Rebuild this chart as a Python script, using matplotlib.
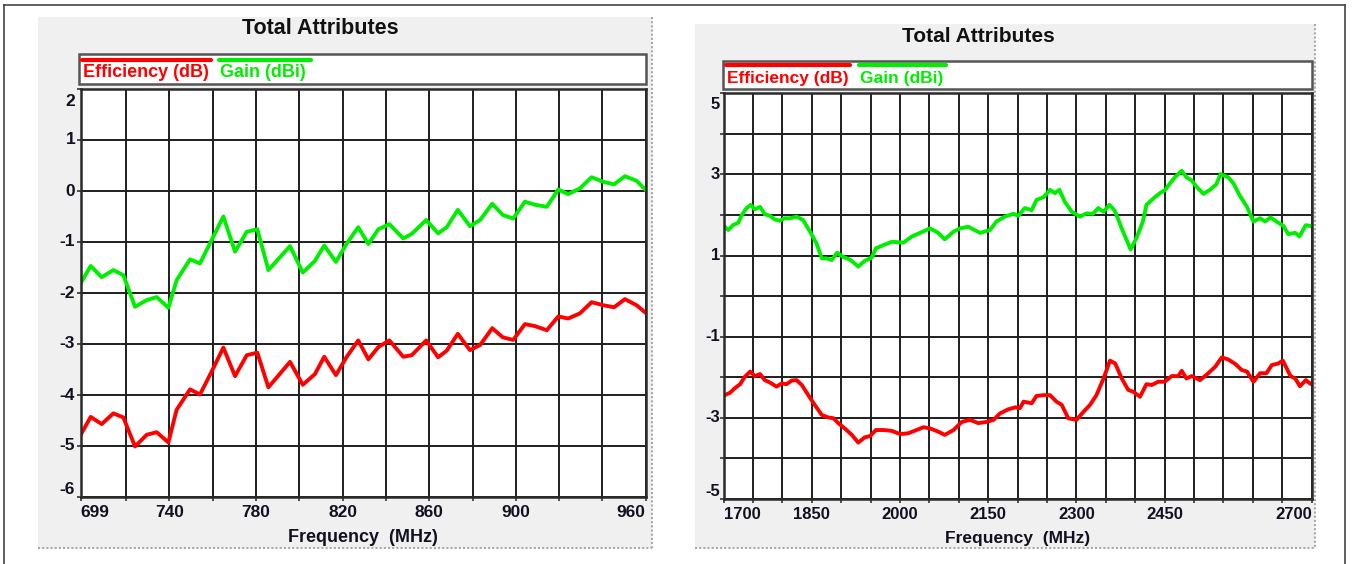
import matplotlib
matplotlib.use('Agg')
import matplotlib.pyplot as plt
import matplotlib.transforms as mtransforms
from matplotlib.patches import Rectangle
from matplotlib.ticker import FixedLocator

plt.rcParams['font.family'] = ['Liberation Sans', 'DejaVu Sans']

# ---------------- data: low band (699-960 MHz) ----------------
freq_low = [699, 703.6, 708.7, 714.1, 718.7, 724.1, 729.5, 734.1, 739.5, 743.3,
            749.5, 754.1, 759.5, 764.9, 770.3, 775.7, 780.6, 785.7, 795.7, 801.6,
            807.2, 811.5, 816.9, 821.9, 827.2, 831.9, 836.5, 841.6, 848.0, 851.9,
            858.6, 864.1, 868.1, 873.2, 878.8, 883.5, 889.1, 894.0, 898.8, 904.2,
            908.9, 914.3, 919.6, 924.2, 929.6, 935.0, 940.4, 945.4, 950.4, 955.8, 960]
gain_low = [-1.81, -1.47, -1.69, -1.55, -1.65, -2.27, -2.14, -2.08, -2.29, -1.75,
            -1.34, -1.42, -0.96, -0.50, -1.19, -0.80, -0.75, -1.55, -1.08, -1.60,
            -1.37, -1.07, -1.39, -1.03, -0.71, -1.04, -0.75, -0.65, -0.93, -0.84,
            -0.57, -0.83, -0.71, -0.37, -0.69, -0.57, -0.25, -0.47, -0.54, -0.21,
            -0.27, -0.31, 0.03, -0.06, 0.05, 0.27, 0.18, 0.13, 0.29, 0.20, 0.02]
eff_low = [-4.78, -4.43, -4.57, -4.36, -4.44, -5.01, -4.78, -4.73, -4.93, -4.29,
           -3.89, -3.99, -3.54, -3.07, -3.63, -3.22, -3.17, -3.85, -3.35, -3.80,
           -3.59, -3.25, -3.61, -3.25, -2.93, -3.30, -3.06, -2.93, -3.25, -3.22,
           -2.93, -3.26, -3.13, -2.80, -3.12, -3.02, -2.69, -2.87, -2.92, -2.61,
           -2.65, -2.73, -2.46, -2.50, -2.40, -2.18, -2.24, -2.28, -2.12, -2.24, -2.39]

# ---------------- data: high band (1700-2700 MHz) ----------------
freq_gain_high = [1702, 1708, 1716, 1725, 1731, 1739, 1746, 1753, 1762, 1770,
                  1779, 1787, 1796, 1804, 1813, 1824, 1835, 1847, 1858, 1867,
                  1875, 1884, 1893, 1903, 1915, 1929, 1940, 1952, 1959, 1972,
                  1986, 2006, 2020, 2034, 2051, 2065, 2076, 2091, 2102, 2116,
                  2136, 2153, 2164, 2178, 2193, 2201, 2212, 2224, 2232, 2244,
                  2255, 2263, 2271, 2280, 2292, 2306, 2317, 2328, 2337, 2346,
                  2356, 2365, 2377, 2392, 2402, 2413, 2419, 2431, 2442, 2451,
                  2459, 2468, 2479, 2487, 2496, 2504, 2516, 2527, 2538, 2545,
                  2558, 2567, 2578, 2590, 2601, 2612, 2621, 2630, 2640, 2652,
                  2660, 2672, 2679, 2690, 2697]
gain_high = [1.71, 1.63, 1.75, 1.81, 2.00, 2.17, 2.25, 2.14, 2.20, 2.02,
             1.98, 1.89, 1.86, 1.92, 1.92, 1.96, 1.88, 1.59, 1.30, 0.93,
             0.93, 0.89, 1.07, 0.97, 0.90, 0.73, 0.87, 0.95, 1.18, 1.26,
             1.34, 1.32, 1.47, 1.56, 1.67, 1.56, 1.40, 1.59, 1.67, 1.71,
             1.56, 1.63, 1.84, 1.96, 2.03, 1.98, 2.17, 2.12, 2.37, 2.44,
             2.62, 2.54, 2.62, 2.33, 2.08, 1.96, 2.04, 2.03, 2.17, 2.08,
             2.25, 2.11, 1.67, 1.15, 1.43, 1.84, 2.25, 2.41, 2.54, 2.62,
             2.78, 2.94, 3.09, 2.93, 2.85, 2.70, 2.52, 2.62, 2.76, 3.01,
             2.93, 2.78, 2.47, 2.20, 1.84, 1.92, 1.84, 1.94, 1.84, 1.73,
             1.53, 1.56, 1.47, 1.75, 1.73]
freq_eff_high = [1702, 1711, 1719, 1728, 1736, 1745, 1753, 1762, 1770, 1779,
                 1790, 1799, 1807, 1816, 1824, 1833, 1844, 1855, 1867, 1878,
                 1887, 1895, 1906, 1918, 1929, 1940, 1949, 1959, 1972, 1986,
                 2000, 2014, 2028, 2040, 2051, 2065, 2076, 2091, 2105, 2119,
                 2133, 2147, 2159, 2170, 2184, 2196, 2204, 2210, 2224, 2232,
                 2244, 2255, 2266, 2275, 2286, 2300, 2312, 2323, 2334, 2346,
                 2357, 2366, 2377, 2388, 2397, 2408, 2419, 2428, 2439, 2450,
                 2462, 2473, 2479, 2487, 2496, 2510, 2521, 2536, 2547, 2558,
                 2570, 2581, 2590, 2601, 2612, 2623, 2632, 2643, 2651, 2664,
                 2672, 2680, 2690, 2697]
eff_high = [-2.44, -2.38, -2.27, -2.17, -1.99, -1.86, -1.97, -1.92, -2.07, -2.13,
            -2.23, -2.15, -2.17, -2.08, -2.07, -2.19, -2.44, -2.68, -2.93, -2.99,
            -3.01, -3.13, -3.26, -3.42, -3.61, -3.48, -3.45, -3.30, -3.30, -3.32,
            -3.40, -3.38, -3.30, -3.23, -3.26, -3.34, -3.42, -3.30, -3.10, -3.05,
            -3.13, -3.10, -3.05, -2.89, -2.79, -2.74, -2.76, -2.60, -2.64, -2.46,
            -2.44, -2.44, -2.60, -2.68, -3.01, -3.05, -2.85, -2.68, -2.44, -2.03,
            -1.59, -1.66, -2.03, -2.31, -2.36, -2.48, -2.17, -2.19, -2.11, -2.11,
            -1.97, -1.97, -1.84, -2.03, -1.97, -2.07, -1.94, -1.74, -1.51, -1.56,
            -1.67, -1.82, -1.86, -2.11, -1.90, -1.90, -1.70, -1.66, -1.59, -1.97,
            -2.03, -2.22, -2.07, -2.15]

# axis settings
low_xlim = (699, 960)
low_xmajor = [699, 740, 780, 820, 860, 900, 960]
low_xminor = [720, 760, 800, 840, 880, 920, 940]
low_ylim = (-6, 2)
low_ymajor = [-6, -5, -4, -3, -2, -1, 0, 1, 2]
low_yminor = []

high_xlim = (1700, 2700)
high_xmajor = [1700, 1850, 2000, 2150, 2300, 2450, 2700]
high_xminor = [1750, 1800, 1900, 1950, 2050, 2100, 2200, 2250, 2350, 2400,
               2500, 2550, 2600, 2650]
high_ylim = (-5, 5)
high_ymajor = [-5, -3, -1, 1, 3, 5]
high_yminor = [-4, -2, 0, 2, 4]

title = "Total Attributes"
xlabel = "Frequency  (MHz)"
leg_eff = "Efficiency (dB)"
leg_gain = "Gain (dBi)"

RED = '#ff0000'
GREEN = '#00ee00'
TXT = '#111122'

W, H = 1353, 564
fig = plt.figure(figsize=(W / 100, H / 100), dpi=100)
fig.patch.set_facecolor('white')


def ax_px(x0, y0, x1, y1, **kw):
    return fig.add_axes([x0 / W, 1 - y1 / H, (x1 - x0) / W, (y1 - y0) / H], **kw)


bg = ax_px(0, 0, W, H)
bg.set_xlim(0, W)
bg.set_ylim(H, 0)
bg.axis('off')

# page frame
bg.plot([4, 1345], [5, 5], color='#444444', lw=1.2)
bg.plot([4, 4], [5, H], color='#444444', lw=1.2)
bg.plot([1345, 1345], [5, H], color='#444444', lw=1.2)

# grey panels with dotted right / bottom borders
for (x0, y0, x1, y1) in [(38, 17, 652, 548), (695, 24, 1315, 548)]:
    bg.add_patch(Rectangle((x0, y0), x1 - x0, y1 - y0, fc='#f0f0f0', ec='none', zorder=1))
    bg.plot([x1, x1], [y0, y1], color='#aaaaaa', lw=1.5, ls=(0, (1, 1)), zorder=2)
    bg.plot([x0, x1], [y1, y1], color='#aaaaaa', lw=1.5, ls=(0, (1, 1)), zorder=2)


def legend_box(x0, y0, x1, y1, red_seg, green_seg, line_y, text_y, fs):
    bg.add_patch(Rectangle((x0, y0), x1 - x0, y1 - y0, fc='white', ec='#555555', lw=1.8, zorder=3))
    bg.plot(red_seg, [line_y, line_y], color=RED, lw=3, solid_capstyle='round', zorder=4)
    bg.plot(green_seg, [line_y, line_y], color=GREEN, lw=3, solid_capstyle='round', zorder=4)
    bg.text(red_seg[0] + 1, text_y, leg_eff, color=RED, fontsize=fs, fontweight='bold',
            ha='left', va='center', zorder=4)
    bg.text(green_seg[0] + 1, text_y, leg_gain, color=GREEN, fontsize=fs, fontweight='bold',
            ha='left', va='center', zorder=4)


legend_box(79, 54, 646, 84, [82, 211], [219, 311], 59.5, 72.5, 13)
legend_box(723, 61, 1312, 89, [726, 850], [859, 946], 64.5, 78, 12.5)

bg.text(320, 29, title, fontsize=15.5, fontweight='bold', color='#111111', ha='center', va='center', zorder=4)
bg.text(978, 36, title, fontsize=15, fontweight='bold', color='#111111', ha='center', va='center', zorder=4)
bg.text(363, 538, xlabel, fontsize=13, fontweight='bold', color=TXT, ha='center', va='center', zorder=4)
bg.text(1017.6, 538, xlabel, fontsize=12.5, fontweight='bold', color=TXT, ha='center', va='center', zorder=4)


def setup(ax, xlim, ylim, xmaj, xmin, ymaj, ymin, fs, ygap, top_shift, bot_shift):
    ax.set_xlim(xlim)
    ax.set_ylim(ylim)
    ax.set_xticks(xmaj, labels=[str(v) for v in xmaj])
    ax.xaxis.set_minor_locator(FixedLocator(xmin))
    ax.set_yticks(ymaj)
    ax.yaxis.set_minor_locator(FixedLocator(ymin))
    ax.set_facecolor('white')
    ax.grid(True, which='both', color='#1e1e1e', lw=1.4)
    ax.set_axisbelow(True)
    ax.tick_params(which='both', direction='out', length=3, width=1.2, color='#333333')
    ax.tick_params(axis='x', pad=3, labelsize=fs, labelcolor=TXT)
    ax.tick_params(axis='y', labelleft=False)
    for lbl in ax.get_xticklabels():
        lbl.set_fontweight('bold')
    xl = ax.get_xticklabels()
    xl[0].set_ha('left')
    xl[-1].set_ha('right')
    # y tick labels drawn as text at their data values
    base = mtransforms.blended_transform_factory(ax.transAxes, ax.transData)
    for v in ymaj:
        dy = 0
        if v == ylim[1]:
            dy = -top_shift
        elif v == ylim[0]:
            dy = bot_shift
        tr = base + mtransforms.ScaledTranslation(-ygap / 100, dy / 100, fig.dpi_scale_trans)
        ax.text(0, v, str(v), transform=tr, ha='right', va='center', fontsize=fs,
                fontweight='bold', color=TXT, clip_on=False)
    for s in ax.spines.values():
        s.set_linewidth(1.8)
        s.set_color('#2a2a2a')


axL = ax_px(80.7, 89, 645.7, 497)
setup(axL, low_xlim, low_ylim, low_xmajor, low_xminor, low_ymajor, low_yminor, 12.5, 5.5, 12, 8)
axL.plot(freq_low, gain_low, color=GREEN, lw=2.8, solid_joinstyle='round')
axL.plot(freq_low, eff_low, color=RED, lw=2.8, solid_joinstyle='round')

axR = ax_px(723.6, 93.3, 1311.7, 499)
setup(axR, high_xlim, high_ylim, high_xmajor, high_xminor, high_ymajor, high_yminor, 12, 3.5, 11, 7)
axR.plot(freq_gain_high, gain_high, color=GREEN, lw=2.8, solid_joinstyle='round')
axR.plot(freq_eff_high, eff_high, color=RED, lw=2.8, solid_joinstyle='round')

fig.savefig('out.png', dpi=100, facecolor='white')
